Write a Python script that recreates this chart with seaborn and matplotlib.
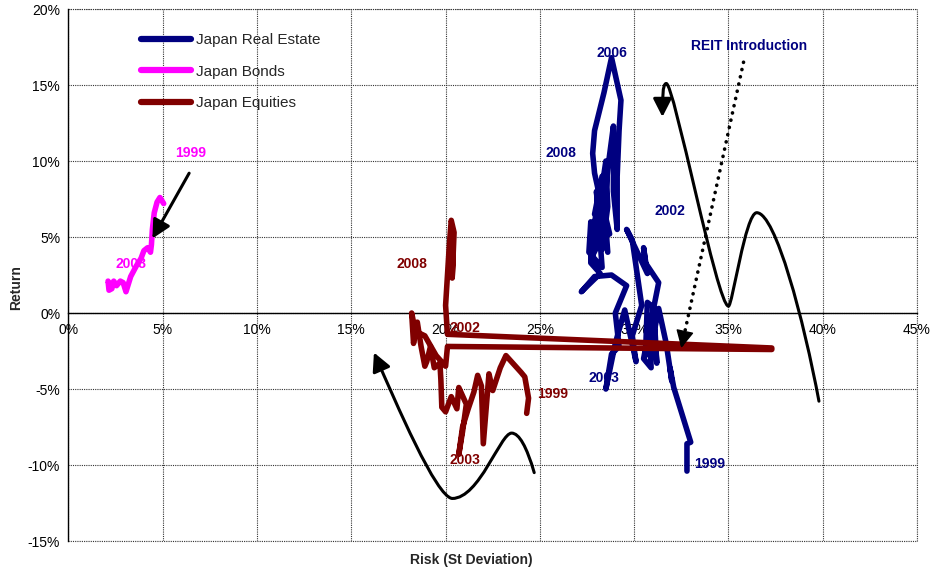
import matplotlib
matplotlib.use("Agg")
import matplotlib.pyplot as plt
import pandas as pd
import seaborn as sns
from matplotlib.patches import FancyArrowPatch
from matplotlib.path import Path
from matplotlib.ticker import FuncFormatter, MultipleLocator

# rolling risk / return paths, 1999 -> 2008 (in %)
re_risk = [32.8, 32.8, 33.0, 32.5, 32.1, 31.9, 32.0, 31.7, 31.3, 31.1, 31.2, 31.0, 30.7, 30.6,
           30.8, 30.9, 30.5, 31.3, 30.6, 30.5, 30.7, 29.6, 29.9, 30.4, 29.9, 30.1, 29.5, 29.0,
           28.8, 28.5, 28.8, 29.2, 29.0, 29.6, 28.8, 27.9, 27.2, 28.2, 27.7, 27.7, 27.6, 28.3,
           28.0, 28.3, 28.6, 28.5, 28.2, 27.9, 27.8, 27.9, 28.4, 28.8, 29.3, 29.2, 29.1, 29.1,
           28.9, 28.9, 28.9, 28.6, 28.4, 28.1, 28.0, 27.8, 28.3, 28.1, 28.6, 28.3, 27.9, 28.7,
           28.2, 27.7, 28.4]
re_ret = [-10.4, -8.6, -8.5, -6.5, -4.9, -3.6, -4.5, -2.0, 0.3, -1.0, -3.3, 0.4, 0.7, -2.8,
          -0.5, -3.6, -3.0, 2.0, 3.3, 4.3, 2.6, 5.5, 4.8, 0.5, -1.5, -3.2, 0.2, -2.0,
          -3.2, -5.0, -2.7, -2.2, 0.0, 1.8, 2.5, 2.4, 1.4, 2.6, 3.3, 6.0, 4.0, 3.0,
          8.0, 4.2, 7.0, 10.0, 7.5, 9.2, 10.5, 12.0, 14.5, 16.8, 14.0, 12.0, 9.0, 5.5,
          8.0, 11.2, 12.3, 9.5, 6.5, 8.5, 5.5, 3.8, 5.0, 7.0, 4.0, 9.0, 6.5, 5.2,
          7.8, 4.8, 6.2]

bond_risk = [5.05, 4.85, 4.7, 4.55, 4.45, 4.4, 4.35, 4.2, 4.0, 3.85, 3.6, 3.3, 3.05, 2.9,
             2.75, 2.55, 2.4, 2.3, 2.15, 2.1, 2.2]
bond_ret = [7.2, 7.6, 7.3, 6.6, 5.5, 4.5, 4.0, 4.3, 4.1, 3.6, 3.1, 2.4, 1.4, 2.0,
            2.1, 1.8, 2.1, 1.6, 1.5, 2.1, 1.8]

eq_risk = [24.3, 24.4, 24.2, 24.0, 23.2, 22.9, 22.5, 22.3, 22.0, 21.9, 21.7, 21.5, 21.2, 20.9,
           20.7, 20.9, 21.1, 20.7, 20.6, 20.3, 20.0, 19.8, 19.75, 19.7, 19.4, 19.2, 19.0, 18.9,
           18.7, 18.5, 18.3, 18.2, 18.4, 18.9, 19.5, 20.0, 20.1, 37.3, 37.3, 20.1, 20.0, 20.1,
           20.2, 20.3, 20.45, 20.35, 20.4]
eq_ret = [-6.6, -5.6, -4.2, -3.9, -2.8, -3.6, -5.1, -4.0, -8.6, -4.8, -4.1, -5.2, -6.3, -7.5,
          -9.3, -7.8, -6.0, -4.9, -6.3, -5.5, -6.5, -6.2, -4.4, -3.3, -3.6, -2.2, -3.2, -3.5,
          -2.2, -0.6, -2.0, 0.0, -1.2, -1.5, -2.8, -3.5, -2.2, -2.4, -2.3, -1.4, 0.5, 2.5,
          4.5, 6.1, 5.3, 2.3, 3.8]

series_names = ["Japan Real Estate", "Japan Bonds", "Japan Equities"]
series_colors = ["#000080", "#FF00FF", "#800000"]

# year labels: (text, risk, return, colour index)
year_labels = [
    ("1999", 6.46, 10.5, 1), ("2008", 3.3, 3.2, 1),
    ("2008", 18.2, 3.2, 2), ("2002", 21.0, -1.0, 2), ("1999", 25.65, -5.3, 2), ("2003", 21.0, -9.7, 2),
    ("2006", 28.8, 17.1, 0), ("2008", 26.1, 10.5, 0), ("2002", 31.9, 6.7, 0),
    ("2003", 28.4, -4.3, 0), ("1999", 34.0, -9.9, 0),
]

# hand-drawn arrows (bezier control points)
bond_arrow = [(6.4, 9.2), (4.45, 4.9)]
eq_curve = [(24.7, -10.5), (24.3, -8.8), (23.9, -7.9), (23.5, -7.9),
            (22.9, -7.9), (21.8, -12.2), (20.35, -12.2),
            (19.5, -12.1), (17.4, -6.0), (16.2, -2.6)]
re_curve = [(39.8, -5.8), (39.0, -0.5), (37.5, 6.6), (36.5, 6.6),
            (35.9, 6.6), (35.2, 0.4), (35.0, 0.45),
            (34.4, 0.5), (32.1, 15.2), (31.7, 15.1),
            (31.5, 15.1), (31.5, 14.0), (31.5, 12.9)]
reit_arrow = [(35.8, 16.5), (32.5, -2.3)]

frames = []
for name, xs, ys in [(series_names[0], re_risk, re_ret),
                     (series_names[1], bond_risk, bond_ret),
                     (series_names[2], eq_risk, eq_ret)]:
    frames.append(pd.DataFrame({"risk": xs, "ret": ys, "series": name}))
df = pd.concat(frames, ignore_index=True)

sns.set_style("white")
plt.rcParams["font.family"] = ["Liberation Sans", "DejaVu Sans"]

fig = plt.figure(figsize=(9.34, 5.71), dpi=100)
ax = fig.add_axes([0.0733, 0.0525, 0.9085, 0.9317])

sns.lineplot(data=df, x="risk", y="ret", hue="series", hue_order=series_names,
             palette=series_colors, sort=False, estimator=None, lw=4.0,
             solid_capstyle="round", solid_joinstyle="round", ax=ax, zorder=3)

ax.set_xlim(0, 45)
ax.set_ylim(-15, 20)
ax.xaxis.set_major_locator(MultipleLocator(5))
ax.yaxis.set_major_locator(MultipleLocator(5))
pct = FuncFormatter(lambda v, p: f"{v:.0f}%")
ax.xaxis.set_major_formatter(pct)
ax.yaxis.set_major_formatter(pct)
grid_style = dict(color="#333333", linestyle=(0, (1, 1)), lw=0.8)
ax.grid(True, **grid_style)
ax.axhline(-15, clip_on=False, zorder=1, **grid_style)
ax.axhline(20, clip_on=False, zorder=1, **grid_style)
ax.axvline(45, clip_on=False, zorder=1, **grid_style)
for s in ["top", "right"]:
    ax.spines[s].set_visible(False)
ax.spines["bottom"].set_position(("data", 0))
ax.spines["bottom"].set_color("black")
ax.spines["bottom"].set_linewidth(1.0)
ax.spines["left"].set_color("black")
ax.spines["left"].set_linewidth(1.0)
ax.tick_params(axis="y", direction="out", length=4, width=1, labelsize=10, pad=2, color="black")
ax.tick_params(axis="x", direction="out", length=0, labelsize=10, pad=7)
for lbl in ax.get_xticklabels() + ax.get_yticklabels():
    lbl.set_color("black")

ax.set_xlabel("Risk (St Deviation)", fontsize=10, fontweight="bold")
ax.set_ylabel("Return", fontsize=10, fontweight="bold")
ax.xaxis.set_label_coords(0.475, -0.022)
ax.yaxis.set_label_coords(-0.054, 0.477)

leg = ax.legend(loc="upper left", bbox_to_anchor=(0.0765, 0.969), frameon=False,
                fontsize=11, handlelength=3.3, handletextpad=0.3, labelspacing=1.15,
                borderpad=0)
for h in leg.get_lines():
    h.set_linewidth(4.5)
    h.set_solid_capstyle("round")

for txt, x, y, ci in year_labels:
    ax.text(x, y, txt, color=series_colors[ci], fontsize=10, fontweight="bold",
            ha="center", va="center", zorder=5)
ax.text(36.1, 17.6, "REIT Introduction", color="#000080", fontsize=10, fontweight="bold",
        ha="center", va="center", zorder=5)

head = "-|>,head_length=0.55,head_width=0.28"
ax.annotate("", xy=bond_arrow[1], xytext=bond_arrow[0],
            arrowprops=dict(arrowstyle=head, color="black", lw=2.2, mutation_scale=20,
                            shrinkA=0, shrinkB=0), zorder=6)

for pts in [eq_curve, re_curve]:
    codes = [Path.MOVETO] + [Path.CURVE4] * (len(pts) - 1)
    arr = FancyArrowPatch(path=Path(pts, codes), arrowstyle=head, color="black",
                          lw=2.2, mutation_scale=20, zorder=6)
    ax.add_patch(arr)

(sx, sy), (tx, ty) = reit_arrow
ax.plot([sx, tx], [sy, ty], color="black", lw=2.6, linestyle=(0, (0.05, 2.0)),
        dash_capstyle="round", zorder=6)
ax.annotate("", xy=(tx, ty), xytext=(tx + (sx - tx) * 0.06, ty + (sy - ty) * 0.06),
            arrowprops=dict(arrowstyle=head, color="black", lw=1, mutation_scale=20,
                            shrinkA=0, shrinkB=0), zorder=6)

fig.savefig("out.png", dpi=100)
